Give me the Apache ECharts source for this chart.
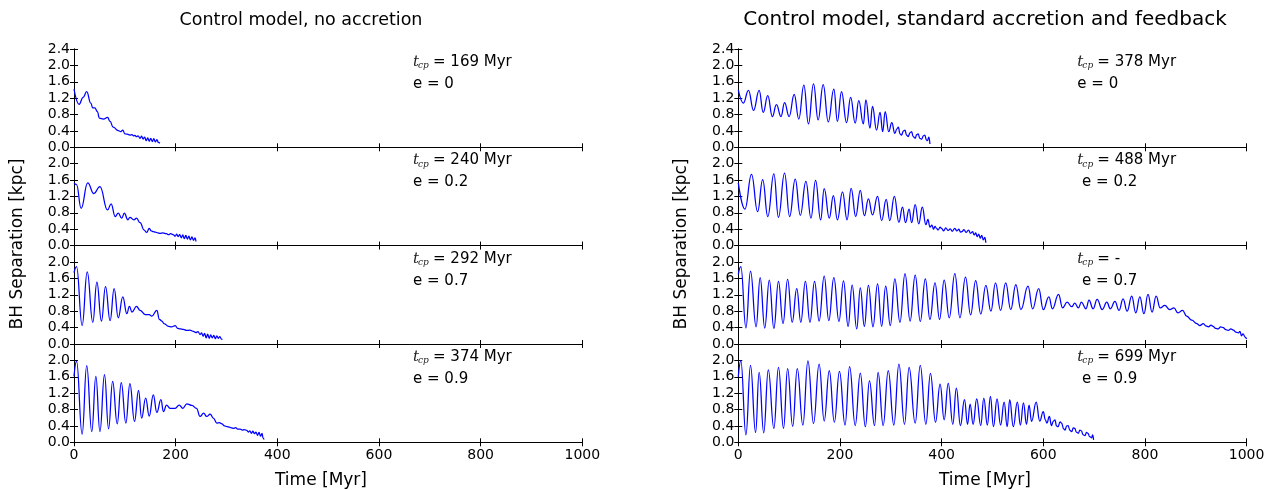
<!DOCTYPE html>
<html><head><meta charset="utf-8">
<script src="https://cdn.jsdelivr.net/npm/echarts@6/dist/echarts.min.js"></script>
<style>html,body{margin:0;padding:0;background:#fff}#c{width:1274px;height:490px}</style>
</head><body><div id="c"></div>
<script>
// ---- data: [time (Myr), BH separation (kpc)] ----
const noAccE0 = [[0,1.42],[10,1.05],[18,1.22],[25,1.36],[33,1.08],[37,0.96],[41,0.96],[46,0.87],[50,0.71],[58,0.69],[66,0.73],[71,0.63],[77,0.49],[87,0.41],[92,0.38],[96,0.42],[100,0.33],[105,0.32],[110,0.30],[114,0.31],[117,0.28],[120,0.29],[123,0.26],[126,0.28],[130,0.22],[133,0.27],[136,0.20],[139,0.25],[142,0.16],[145,0.23],[148,0.15],[151,0.22],[154,0.14],[157,0.21],[160,0.13],[163,0.19],[166,0.12],[169,0.10]];
const noAccE02 = [[0,1.52],[5,1.49],[14,0.91],[27,1.53],[39,1.27],[51,1.44],[66,0.87],[73,1.02],[81,0.71],[87,0.79],[94,0.67],[99,0.79],[106,0.63],[110,0.69],[118,0.63],[123,0.67],[130,0.56],[138,0.38],[143,0.32],[148,0.42],[152,0.36],[156,0.34],[160,0.33],[165,0.31],[169,0.30],[175,0.31],[182,0.29],[186,0.27],[190,0.29],[196,0.26],[199,0.23],[202,0.28],[205,0.22],[208,0.27],[211,0.19],[214,0.26],[217,0.17],[220,0.25],[223,0.16],[226,0.23],[229,0.14],[232,0.21],[235,0.13],[238,0.19],[240,0.10]];
const noAccE07 = [[0,1.74],[5,1.89],[16,0.45],[26,1.76],[37,0.53],[45,1.51],[54,0.56],[62,1.40],[71,0.57],[79,1.35],[87,0.64],[96,1.15],[104,0.74],[109,0.92],[114,0.78],[123,0.92],[130,0.82],[140,0.72],[148,0.72],[153,0.68],[163,0.82],[168,0.60],[173,0.56],[177,0.50],[186,0.43],[192,0.42],[199,0.45],[204,0.38],[209,0.37],[215,0.36],[222,0.33],[228,0.34],[235,0.31],[240,0.28],[244,0.30],[248,0.23],[251,0.27],[254,0.19],[257,0.26],[260,0.15],[263,0.24],[266,0.14],[269,0.22],[272,0.15],[275,0.21],[278,0.13],[281,0.20],[284,0.14],[287,0.18],[290,0.12],[292,0.11]];
const noAccE09 = [[0,1.61],[5,1.98],[16,0.20],[25,1.87],[35,0.26],[43,1.61],[51,0.26],[60,1.65],[68,0.33],[76,1.49],[85,0.45],[93,1.46],[102,0.47],[110,1.43],[119,0.51],[127,1.27],[133,0.59],[141,1.08],[148,0.64],[156,1.16],[163,0.73],[171,1.04],[176,0.75],[182,0.91],[189,0.83],[199,0.83],[207,0.91],[214,0.83],[222,0.94],[232,0.90],[241,0.83],[248,0.63],[255,0.71],[261,0.63],[268,0.69],[274,0.59],[281,0.47],[286,0.48],[291,0.45],[296,0.40],[301,0.38],[306,0.37],[310,0.35],[314,0.34],[318,0.36],[322,0.32],[327,0.32],[331,0.30],[335,0.31],[340,0.29],[343,0.25],[346,0.28],[349,0.22],[352,0.27],[355,0.21],[358,0.25],[361,0.17],[364,0.24],[367,0.15],[370,0.22],[372,0.10],[374,0.07]];

const accE0 = [[0,1.40],[10,1.08],[20,1.39],[30,0.90],[41,1.39],[49,0.85],[58,1.26],[67,0.75],[75,1.04],[84,0.75],[91,1.09],[100,0.75],[110,1.29],[119,0.69],[129,1.52],[138,0.57],[148,1.55],[157,0.67],[167,1.53],[177,0.62],[188,1.42],[195,0.63],[203,1.36],[213,0.60],[221,1.22],[230,0.59],[237,1.14],[246,0.57],[251,1.16],[259,0.47],[264,1.00],[272,0.42],[279,0.85],[284,0.38],[289,0.87],[296,0.38],[302,0.60],[308,0.34],[312,0.45],[315,0.49],[318,0.33],[321,0.30],[325,0.40],[328,0.42],[331,0.30],[334,0.26],[338,0.36],[341,0.38],[344,0.26],[348,0.22],[351,0.31],[354,0.33],[357,0.22],[361,0.20],[364,0.28],[367,0.30],[370,0.18],[372,0.16],[375,0.25],[377,0.08]];
const accE02 = [[0,1.53],[13,0.89],[26,1.74],[38,0.83],[48,1.61],[58,0.71],[70,1.75],[79,0.69],[91,1.77],[101,0.71],[112,1.62],[122,0.74],[133,1.57],[143,0.67],[152,1.59],[162,0.63],[169,1.39],[179,0.67],[187,1.22],[195,0.63],[205,1.31],[214,0.63],[222,1.40],[231,0.71],[240,1.35],[248,0.73],[256,1.14],[264,0.75],[274,1.20],[282,0.61],[291,1.13],[298,0.61],[307,1.20],[316,0.57],[323,0.94],[329,0.56],[336,0.89],[341,0.56],[348,1.00],[355,0.53],[362,0.94],[369,0.51],[373,0.64],[377,0.45],[381,0.50],[384,0.40],[387,0.47],[390,0.42],[393,0.38],[397,0.45],[400,0.42],[404,0.36],[408,0.43],[413,0.37],[417,0.41],[421,0.35],[426,0.42],[430,0.36],[434,0.40],[437,0.33],[440,0.34],[444,0.39],[448,0.32],[453,0.38],[457,0.30],[461,0.34],[464,0.26],[467,0.31],[470,0.22],[473,0.28],[476,0.18],[479,0.25],[482,0.14],[485,0.20],[487,0.07]];
const accE07 = [[0,1.70],[5,1.89],[15,0.39],[24,1.78],[35,0.42],[43,1.62],[52,0.39],[61,1.56],[70,0.38],[79,1.53],[88,0.50],[97,1.58],[106,0.53],[115,1.35],[123,0.53],[132,1.53],[141,0.53],[150,1.53],[159,0.56],[169,1.66],[178,0.57],[188,1.62],[198,0.55],[207,1.54],[216,0.43],[224,1.44],[233,0.37],[240,1.37],[248,0.43],[256,1.43],[265,0.42],[274,1.47],[282,0.43],[290,1.41],[299,0.45],[308,1.59],[318,0.53],[328,1.72],[338,0.56],[348,1.68],[358,0.55],[368,1.59],[377,0.60],[387,1.49],[396,0.60],[405,1.56],[415,0.64],[426,1.72],[436,0.64],[447,1.63],[457,0.71],[467,1.55],[477,0.73],[487,1.43],[497,0.80],[506,1.49],[516,0.82],[526,1.49],[536,0.84],[546,1.45],[556,0.84],[570,1.41],[579,0.86],[591,1.35],[600,0.84],[611,1.15],[618,0.86],[630,1.21],[638,0.88],[647,1.02],[656,0.91],[662,1.00],[669,0.88],[675,1.02],[684,0.86],[690,1.07],[698,0.86],[706,1.09],[716,0.84],[725,1.02],[732,0.86],[741,1.04],[749,0.82],[757,1.10],[765,0.80],[774,1.17],[782,0.76],[790,1.15],[798,0.74],[806,1.21],[814,0.78],[822,1.17],[830,0.88],[839,0.94],[849,0.84],[857,0.88],[865,0.76],[874,0.82],[882,0.68],[892,0.58],[902,0.50],[908,0.45],[915,0.50],[920,0.44],[925,0.42],[930,0.46],[934,0.43],[939,0.38],[944,0.37],[949,0.42],[954,0.40],[959,0.35],[964,0.33],[969,0.37],[974,0.34],[979,0.29],[984,0.27],[987,0.31],[990,0.20],[993,0.25],[997,0.17],[1000,0.12]];
const accE09 = [[0,1.60],[5,1.99],[15,0.18],[24,1.88],[34,0.24],[41,1.71],[50,0.23],[59,1.77],[70,0.34],[79,1.83],[89,0.34],[97,1.80],[107,0.39],[116,1.80],[127,0.42],[137,1.99],[148,0.46],[159,1.91],[169,0.52],[179,1.75],[189,0.49],[199,1.73],[210,0.42],[219,1.85],[230,0.41],[240,1.69],[250,0.38],[258,1.50],[268,0.41],[275,1.71],[285,0.41],[295,1.75],[306,0.42],[316,1.91],[327,0.44],[336,1.83],[348,0.47],[358,1.88],[369,0.44],[378,1.68],[388,0.49],[397,1.42],[405,0.55],[413,1.44],[422,0.44],[429,1.32],[437,0.41],[445,1.04],[451,0.44],[456,0.93],[462,0.44],[469,1.06],[477,0.41],[483,1.08],[490,0.42],[496,1.12],[502,0.38],[509,1.06],[516,0.42],[523,0.98],[529,0.38],[534,1.04],[541,0.38],[549,0.98],[555,0.42],[561,0.96],[567,0.44],[572,0.91],[577,0.51],[586,0.98],[593,0.52],[600,0.75],[604,0.55],[607,0.47],[612,0.63],[616,0.41],[620,0.52],[623,0.55],[626,0.40],[629,0.38],[633,0.50],[636,0.47],[640,0.33],[643,0.30],[646,0.40],[649,0.41],[652,0.30],[656,0.26],[659,0.35],[662,0.34],[665,0.25],[669,0.22],[672,0.30],[675,0.28],[678,0.19],[682,0.16],[685,0.24],[688,0.22],[691,0.14],[695,0.11],[697,0.18],[699,0.06]];

const panelTitles = ['Control model, no accretion', 'Control model, standard accretion and feedback'];
const tcpLabels = [['169 Myr','240 Myr','292 Myr','374 Myr'], ['378 Myr','488 Myr','-','699 Myr']];
const eLabels = [['e = 0','e = 0.2','e = 0.7','e = 0.9'], ['e = 0',' e = 0.2',' e = 0.7',' e = 0.9']];
const xTicks = [0, 200, 400, 600, 800, 1000];
const yTicks = [0, 0.4, 0.8, 1.2, 1.6, 2.0, 2.4];
const xLabel = 'Time [Myr]';
const yLabel = 'BH Separation [kpc]';
const seriesData = [[noAccE0, noAccE02, noAccE07, noAccE09], [accE0, accE02, accE07, accE09]];

// ---- layout ----
const colLeft = [74, 738.3];
const plotW = 508.3;
const rowTop = [49, 147.3, 245.7, 344];
const rowH = 98.3;
const FONT = 'DejaVu Sans';

const grids = [], xAxes = [], yAxes = [], series = [], graphic = [];
const lineAx = {show: true, lineStyle: {color: '#000', width: 1}};
const tickAx = {show: true, inside: true, length: 4, lineStyle: {color: '#000', width: 1}};

for (let c = 0; c < 2; c++) {
  for (let r = 0; r < 4; r++) {
    const g = grids.length;
    grids.push({left: colLeft[c], top: rowTop[r], width: plotW, height: rowH, containLabel: false});
    const xBase = {type: 'value', gridIndex: g, min: xTicks[0], max: xTicks[xTicks.length - 1],
      interval: xTicks[1] - xTicks[0], splitLine: {show: false}, axisLine: lineAx, axisTick: tickAx};
    xAxes.push(Object.assign({}, xBase, {position: 'bottom',
      axisLabel: {show: r === 3, color: '#000', fontSize: 14, fontFamily: FONT, margin: 6,
        formatter: v => String(Math.round(v))}}));
    xAxes.push(Object.assign({}, xBase, {position: 'top', axisLabel: {show: false}}));
    const yBase = {type: 'value', gridIndex: g, min: yTicks[0], max: yTicks[yTicks.length - 1],
      interval: yTicks[1] - yTicks[0], splitLine: {show: false}, axisLine: lineAx, axisTick: tickAx};
    yAxes.push(Object.assign({}, yBase, {position: 'left',
      axisLabel: {show: true, color: '#000', fontSize: 14, fontFamily: FONT, margin: 4,
        showMaxLabel: r === 0,
        formatter: v => (r > 0 && v > 2.3) ? '' : v.toFixed(1)}}));
    yAxes.push(Object.assign({}, yBase, {position: 'right', axisLabel: {show: false}}));
    series.push({type: 'line', xAxisIndex: 2 * g, yAxisIndex: 2 * g, data: seriesData[c][r],
      showSymbol: false, smooth: 0.45, smoothMonotone: 'x', clip: true,
      lineStyle: {color: '#0000ff', width: 1.25}, itemStyle: {color: '#0000ff'}});

    // annotations
    const ax = colLeft[c] + plotW * 0.667, ay = rowTop[r] + 13;
    graphic.push({type: 'text', x: ax, y: ay, style: {text: 't', fill: '#222',
      font: 'italic 15px "DejaVu Serif"', textAlign: 'left', textVerticalAlign: 'middle'}});
    graphic.push({type: 'text', x: ax + 5, y: ay + 4, style: {text: 'cp', fill: '#222',
      font: 'italic 9px "DejaVu Serif"', textAlign: 'left', textVerticalAlign: 'middle'}});
    graphic.push({type: 'text', x: ax + 20, y: ay, style: {text: '= ' + tcpLabels[c][r], fill: '#000',
      font: '15px "DejaVu Sans"', textAlign: 'left', textVerticalAlign: 'middle'}});
    graphic.push({type: 'text', x: ax, y: rowTop[r] + 35, style: {text: eLabels[c][r], fill: '#000',
      font: '15px "DejaVu Sans"', textAlign: 'left', textVerticalAlign: 'middle'}});
  }
}
const titleX = [301, 985], titleSize = [17.5, 20], xNameX = [321, 985], yNameX = [18, 682];
for (let c = 0; c < 2; c++) {
  graphic.push({type: 'text', x: titleX[c], y: 20, style: {text: panelTitles[c], fill: '#000',
    font: titleSize[c] + 'px "DejaVu Sans"', textAlign: 'center', textVerticalAlign: 'middle'}});
  graphic.push({type: 'text', x: xNameX[c], y: 481, style: {text: xLabel, fill: '#000',
    font: '17px "DejaVu Sans"', textAlign: 'center', textVerticalAlign: 'middle'}});
  graphic.push({type: 'text', x: yNameX[c], y: 244, rotation: Math.PI / 2, style: {text: yLabel, fill: '#000',
    font: '17px "DejaVu Sans"', textAlign: 'center', textVerticalAlign: 'middle'}});
}

const chart = echarts.init(document.getElementById('c'), null, {renderer: 'canvas'});
chart.setOption({animation: false, backgroundColor: '#fff', grid: grids, xAxis: xAxes, yAxis: yAxes,
  series: series, graphic: graphic});
</script></body></html>
